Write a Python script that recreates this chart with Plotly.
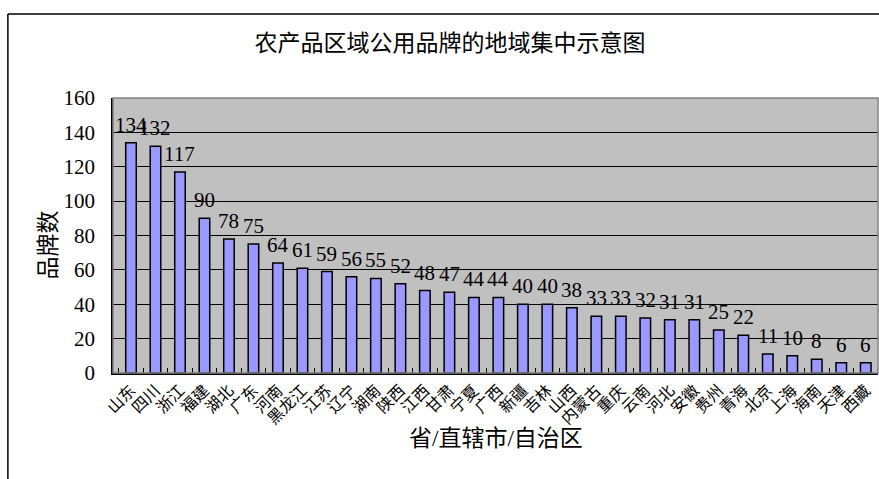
import plotly.graph_objects as go

provinces = ["山东", "四川", "浙江", "福建", "湖北", "广东", "河南", "黑龙江", "江苏", "辽宁",
             "湖南", "陕西", "江西", "甘肃", "宁夏", "广西", "新疆", "吉林", "山西", "内蒙古",
             "重庆", "云南", "河北", "安徽", "贵州", "青海", "北京", "上海", "海南", "天津", "西藏"]
brand_counts = [134, 132, 117, 90, 78, 75, 64, 61, 59, 56,
                55, 52, 48, 47, 44, 44, 40, 40, 38, 33,
                33, 32, 31, 31, 25, 22, 11, 10, 8, 6, 6]
y_ticks = [0, 20, 40, 60, 80, 100, 120, 140, 160]

title_text = "农产品区域公用品牌的地域集中示意图"
x_title = "省/直辖市/自治区"
y_title = "品牌数"

FONT = "Liberation Serif, Noto Sans CJK SC, serif"

fig = go.Figure()
fig.add_trace(go.Bar(
    x=provinces, y=brand_counts,
    marker=dict(color="#9999FF", line=dict(color="#000000", width=1.5)),
    hoverinfo="x+y",
))

annotations = []
for p, v in zip(provinces, brand_counts):
    annotations.append(dict(x=p, y=v, xref="x", yref="y", text=str(v), showarrow=False,
                            yanchor="bottom", yshift=4,
                            font=dict(family=FONT, size=21, color="#000000")))
annotations.append(dict(x=-0.102, y=0.4655, xref="paper", yref="paper", text=y_title,
                        textangle=-90, showarrow=False,
                        font=dict(family=FONT, size=23, color="#000000")))
annotations.append(dict(x=0.5, y=-0.291, xref="paper", yref="paper", text=x_title,
                        showarrow=False,
                        font=dict(family=FONT, size=23, color="#000000")))

shapes = [
    # plot area border
    dict(type="rect", xref="paper", yref="paper", x0=0, x1=1, y0=0, y1=1,
         line=dict(color="#808080", width=1.5), layer="above"),
    # outer chart border (top and left visible)
    dict(type="line", xref="paper", yref="paper", x0=-0.1374, x1=1.02, y0=1.3055, y1=1.3055,
         line=dict(color="#000000", width=1.5)),
    dict(type="line", xref="paper", yref="paper", x0=-0.1374, x1=-0.1374, y0=1.3055, y1=-0.45,
         line=dict(color="#000000", width=1.5)),
]

fig.update_layout(
    width=879, height=479,
    margin=dict(l=113, r=1, t=98, b=106),
    paper_bgcolor="#FFFFFF",
    plot_bgcolor="#C0C0C0",
    bargap=0.57,
    showlegend=False,
    title=dict(text=title_text, x=450 / 879, y=1 - 43 / 479, xanchor="center", yanchor="middle",
               font=dict(family=FONT, size=23, color="#000000")),
    annotations=annotations,
    shapes=shapes,
    font=dict(family=FONT, color="#000000"),
)
fig.update_xaxes(
    type="category", tickangle=-45, tickfont=dict(family=FONT, size=16, color="#000000"),
    showline=True, linecolor="#000000", linewidth=1.5, ticks="inside", ticklen=5,
    tickcolor="#000000", tickson="boundaries", showgrid=False,
)
fig.update_yaxes(
    range=[0, 160], tickvals=y_ticks, tickfont=dict(family=FONT, size=21, color="#000000"),
    showline=True, linecolor="#000000", linewidth=1.5, ticks="inside", ticklen=5,
    tickcolor="#000000", showgrid=True, gridcolor="#000000", gridwidth=1,
    zeroline=False, ticklabelstandoff=12,
)

fig.write_html("out.html")
